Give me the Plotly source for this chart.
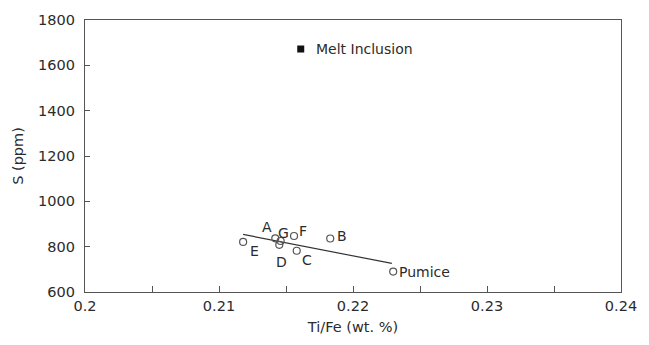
import plotly.graph_objects as go

# Data
sample_labels = ["E", "A", "G", "D", "F", "C", "B", "Pumice"]
ti_fe = [0.2118, 0.2142, 0.2146, 0.2145, 0.2156, 0.2158, 0.2183, 0.2230]
sulfur = [821, 837, 825, 808, 847, 782, 836, 690]

melt_x = [0.2161]
melt_y = [1672]
melt_label = "Melt Inclusion"

fit_x = [0.2118, 0.2229]
fit_y = [854, 726]

x_ticks = [0.2, 0.21, 0.22, 0.23, 0.24]
x_ticktext = ["0.2", "0.21", "0.22", "0.23", "0.24"]

# label offsets (px) : (xshift, yshift, xanchor)
label_offsets = {
    "E": (11, -9, "center"),
    "A": (-8, 11, "center"),
    "G": (3, 8, "center"),
    "D": (2, -17, "center"),
    "F": (9, 5, "center"),
    "C": (10, -9, "center"),
    "B": (12, 3, "center"),
    "Pumice": (4, 0, "left"),
}

font_family = "DejaVu Sans"
axis_color = "#555555"
text_color = "#2b2b2b"

fig = go.Figure()
fig.add_trace(go.Scatter(x=fit_x, y=fit_y, mode="lines",
                         line=dict(color="#333333", width=1.2), showlegend=False,
                         hoverinfo="skip"))
fig.add_trace(go.Scatter(x=ti_fe, y=sulfur, mode="markers",
                         marker=dict(symbol="circle-open", size=7,
                                     color="#555555", line=dict(width=1.2)),
                         showlegend=False))
fig.add_trace(go.Scatter(x=melt_x, y=melt_y, mode="markers",
                         marker=dict(symbol="square", size=7, color="#111111"),
                         showlegend=False))

for lab, xv, yv in zip(sample_labels, ti_fe, sulfur):
    dx, dy, xa = label_offsets[lab]
    fig.add_annotation(x=xv, y=yv, text=lab, showarrow=False,
                       xshift=dx, yshift=dy, xanchor=xa, yanchor="middle",
                       font=dict(family=font_family, size=14, color=text_color))

fig.add_annotation(x=melt_x[0], y=melt_y[0], text=melt_label, showarrow=False,
                   xshift=13, xanchor="left", yanchor="middle",
                   font=dict(family=font_family, size=14, color=text_color))

fig.update_layout(
    width=649, height=345,
    margin=dict(l=85, r=22, t=20, b=52),
    paper_bgcolor="white", plot_bgcolor="white",
    font=dict(family=font_family, size=14.5, color=text_color),
)
fig.update_xaxes(range=[0.2, 0.24], tickvals=x_ticks, ticktext=x_ticktext,
                 showgrid=False, zeroline=False, showline=True, linecolor=axis_color,
                 linewidth=1.3, mirror=True, ticks="inside", ticklen=6,
                 tickcolor=axis_color, tickwidth=1.2,
                 minor=dict(dtick=0.005, ticks="inside", ticklen=6, tickcolor=axis_color,
                            tickwidth=1.2, tick0=0.2),
                 title=dict(text="Ti/Fe (wt. %)", font=dict(size=14.5), standoff=9),
                 tickfont=dict(size=14.5))
fig.update_yaxes(range=[600, 1800], dtick=200, showgrid=False, zeroline=False,
                 showline=True, linecolor=axis_color, linewidth=1.3, mirror=True,
                 ticks="inside", ticklen=5, tickcolor=axis_color, tickwidth=1.2,
                 ticklabelstandoff=6,
                 title=dict(text="S (ppm)", font=dict(size=14.5), standoff=10),
                 tickfont=dict(size=14.5))

fig.write_html("out.html")
